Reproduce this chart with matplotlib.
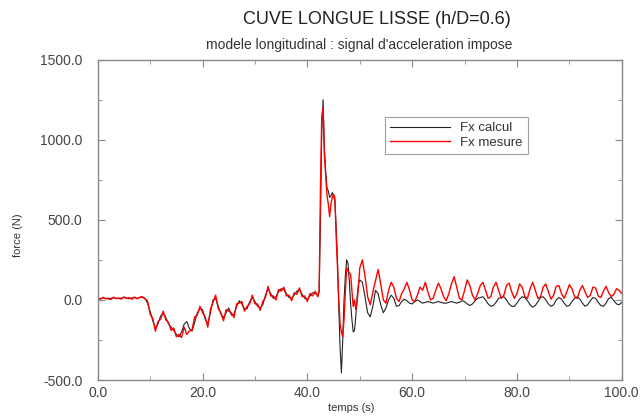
import numpy as np
import matplotlib
matplotlib.use("Agg")
import matplotlib.pyplot as plt

plt.rcParams['font.family'] = ['Liberation Sans', 'DejaVu Sans']

# --- données ---
# segment 1 : 0 -> 42 s (pas 0.5 s)
calc_1 = [10, 8, 12, 10, 6, 10, 14, 10, 8, 12, 16, 12, 8, 12, 15, 10, 14, 18, 10,
          -20, -70, -130, -175, -150, -100, -85, -110, -150, -170, -190, -215, -230,
          -200, -150, -135, -180, -195, -140, -80, -55, -60, -120, -150, -80, 0, 10,
          -40, -90, -110, -80, -50, -95, -90, -40, -5, -25, -55, -55, -10, 15, -10,
          -40, -50, -30, 30, 70, 40, 10, 20, 50, 70, 65, 40, 15, 10, 30, 55, 60, 35,
          10, 5, 25, 45, 40, 30]
mes_1 = [14, 4, 16, 7, 11, 2, 17, 8, 13, 5, 19, 9, 15, 4, 18, 7, 16, 21, 6,
         -5, -90, -115, -195, -135, -120, -70, -125, -140, -190, -175, -230, -215,
         -235, -170, -215, -195, -185, -105, -95, -40, -80, -105, -170, -60, -15, 30,
         -55, -80, -130, -60, -70, -80, -110, -25, -20, -10, -70, -40, -25, 30, -25,
         -25, -65, -10, 15, 85, 25, 25, 0, 65, 55, 80, 25, 30, -5, 45, 35, 75, 20,
         25, -10, 40, 25, 55, 20]

# segment 2 : 42.25 -> 50 s (pas 0.25 s), le choc
calc_2 = [60, 500, 1050, 1250, 950, 800, 700, 680, 640, 650, 670, 650, 620, 450,
          250, -50, -300, -455, -250, 0, 150, 250, 230, 120, -20, -120, -200, -190,
          -100, 20, 100, 125]
mes_2 = [50, 700, 1150, 1200, 900, 780, 650, 600, 520, 600, 640, 660, 640, 400,
         200, 0, -150, -200, -230, -120, 50, 200, 180, 170, 160, 60, -40, 0, -60,
         -10, 80, 200]

# segment 3 : 50.5 -> 100 s (pas 0.5 s)
calc_3 = [110, 20, -80, -105, -40, 60, 40, -30, -80, -50, 0, 30, 10, -40, -35, -10,
          5, -5, -20, -25,
          -10, 0, -10, -20, -15, -10, -15, -20, -15, -10, -15, -20, -20, -15, -10,
          -15, -20, -15, -5, -10,
          -25, -35, -25, -5, 10, 15, 20, 0, -25, -40, -35, -15, 10, 15, 20, 0, -25,
          -40, -40, -20,
          5, 20, 15, -5, -30, -45, -35, -10, 15, 20, 0, -25, -40, -30, 0, 15, 5,
          -20, -40, -35,
          -10, 10, 20, 5, -20, -40, -30, -5, 15, 10, -15, -35, -40, -20, 10, 15, -5,
          -25, -30, -15]
mes_3 = [250, 150, 20, -30, 50, 120, 190, 100, 0, -20, 60, 110, 80, 10, -10, 40,
         70, 110, 60, 0,
         -10, 30, 80, 60, 110, 50, 0, 10, 60, 105, 70, 20, -5, 40, 100, 145, 80, 10,
         0, 60,
         125, 90, 30, 0, 40, 90, 110, 60, 10, 20, 80, 110, 60, 10, 30, 90, 105, 50,
         10, 40,
         100, 80, 20, 10, 70, 110, 60, 10, 20, 80, 100, 50, 5, 30, 85, 90, 40, 10,
         50, 95,
         70, 20, 10, 60, 90, 50, 15, 30, 80, 75, 25, 15, 55, 85, 45, 20, 35, 70, 60,
         40]

segments = [(0.0, 42.0), (42.25, 50.0), (50.5, 100.0)]

def build(parts):
    t, f = [], []
    for (a, b), vals in zip(segments, parts):
        t.append(np.linspace(a, b, len(vals)))
        f.append(np.array(vals, dtype=float))
    return np.concatenate(t), np.concatenate(f)

t_calc, f_calc = build([calc_1, calc_2, calc_3])
t_mes, f_mes = build([mes_1, mes_2, mes_3])

fig = plt.figure(figsize=(6.43, 4.16), dpi=100)
ax = fig.add_axes([0.152, 0.0865, 0.815, 0.77])

ax.plot(t_calc, f_calc, color='#222222', lw=0.8, label='Fx calcul')
ax.plot(t_mes, f_mes, color='#ff0000', lw=1.0, label='Fx mesure')

ax.set_xlim(0, 100)
ax.set_ylim(-500, 1500)
ax.set_xticks(np.arange(0, 101, 20))
ax.set_xticks(np.arange(10, 100, 20), minor=True)
ax.set_yticks(np.arange(-500, 1501, 500))
ax.set_yticks(np.arange(-250, 1500, 500), minor=True)
ax.set_xticklabels(['%.1f' % v for v in np.arange(0, 101, 20)])
ax.set_yticklabels(['%.1f' % v for v in np.arange(-500, 1501, 500)])

for s in ax.spines.values():
    s.set_color('#888888')
    s.set_linewidth(1.0)
ax.tick_params(which='both', direction='in', top=True, right=True,
               color='#888888', labelcolor='#444444', labelsize=10)
ax.tick_params(which='major', length=5, pad=4)
ax.tick_params(axis='y', which='major', pad=11)
ax.tick_params(which='minor', length=3)

fig.text(0.028, 0.435, 'force (N)', rotation=90, ha='center', va='center',
         fontsize=8, color='#333333')
fig.text(0.547, 0.02, 'temps (s)', ha='center', va='center',
         fontsize=8, color='#333333')

fig.text(0.586, 0.952, 'CUVE LONGUE LISSE (h/D=0.6)', ha='center', va='center',
         fontsize=13, color='#222222')
fig.text(0.558, 0.893, "modele longitudinal : signal d'acceleration impose",
         ha='center', va='center', fontsize=10, color='#333333')

leg = ax.legend(loc='upper left', bbox_to_anchor=(0.548, 0.822), fontsize=9.5,
                frameon=True, fancybox=False, borderpad=0.4, handlelength=4.5,
                labelspacing=0.2, borderaxespad=0)
leg.get_frame().set_edgecolor('#888888')
leg.get_frame().set_linewidth(0.8)
for txt in leg.get_texts():
    txt.set_color('#333333')

fig.savefig('out.png', dpi=100)
